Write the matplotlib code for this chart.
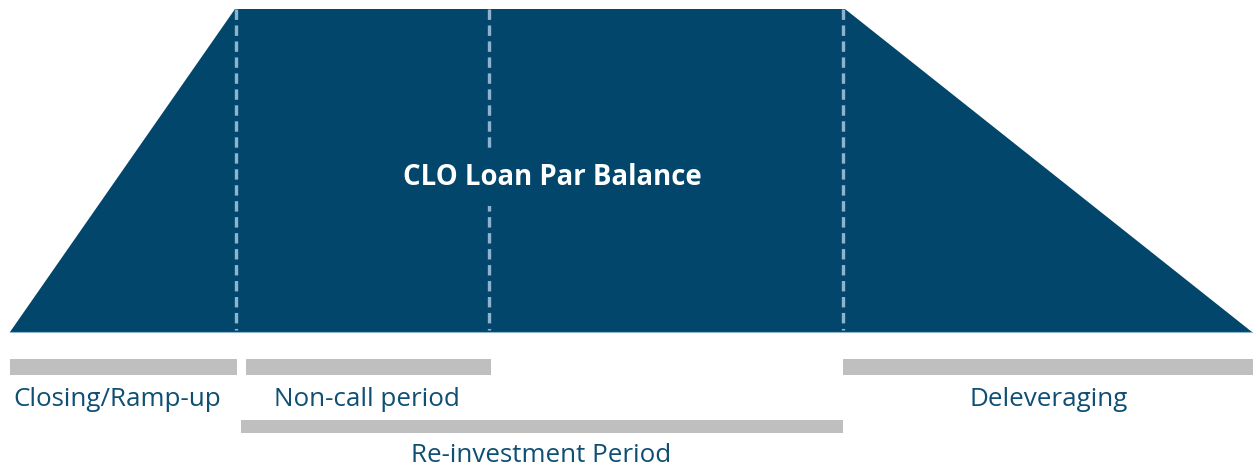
import matplotlib
matplotlib.use("Agg")
import matplotlib.pyplot as plt

plt.rcParams['lines.scale_dashes'] = False

# Timeline milestones (diagram units, left-to-right)
shape_t = [10, 235, 845, 1252]          # closing, ramp-up end, reinvestment end, maturity
shape_level = [332, 9, 9, 332]          # par balance profile (diagram units, top = full)
divider_t = [236, 489, 843]             # ramp-up end, non-call end, reinvestment end

# Phase spans: (label, start, end, row)
phase_labels = ["Closing/Ramp-up", "Non-call period", "Deleveraging", "Re-investment Period"]
phase_start = [10, 246, 843, 241]
phase_end = [237, 491, 1253, 843]
phase_row = [0, 0, 0, 1]

title_text = "CLO Loan Par Balance"

FILL = "#02476B"
TEXT = "#0E4F73"
DASH = "#8DB3CE"
BAR = "#BFBFBF"

fig = plt.figure(figsize=(12.53, 4.66), dpi=100)
ax = fig.add_axes([0, 0, 1, 1])
ax.set_xlim(0, 1253)
ax.set_ylim(466, 0)
ax.axis("off")

ax.fill(shape_t, shape_level, color=FILL, lw=0)
ax.plot([shape_t[0], shape_t[-1]], [shape_level[0], shape_level[-1]], color=DASH, lw=0.8)

for x in divider_t:
    ax.plot([x, x], [9, 330], color=DASH, lw=2.4, linestyle=(0, (7.5, 4.0)))

row_y = [(359, 375), (420, 433)]
label_y = [396.5, 452.5]
for lab, s, e, r in zip(phase_labels, phase_start, phase_end, phase_row):
    y0, y1 = row_y[r]
    ax.fill_between([s, e], y0, y1, color=BAR, lw=0)

label_x = [117, 367, 1049, 541]
for lab, lx, r in zip(phase_labels, label_x, phase_row):
    ax.text(lx, label_y[r] + 3.5, lab, ha="center", va="center", color=TEXT,
            fontsize=18.7, family="Open Sans")

ax.text(552, 177.5, title_text, ha="center", va="center", color="white",
        fontsize=19.8, fontweight="bold", family="Open Sans",
        bbox=dict(facecolor=FILL, edgecolor="none", pad=10), zorder=5)

fig.savefig("out.png", dpi=100)
